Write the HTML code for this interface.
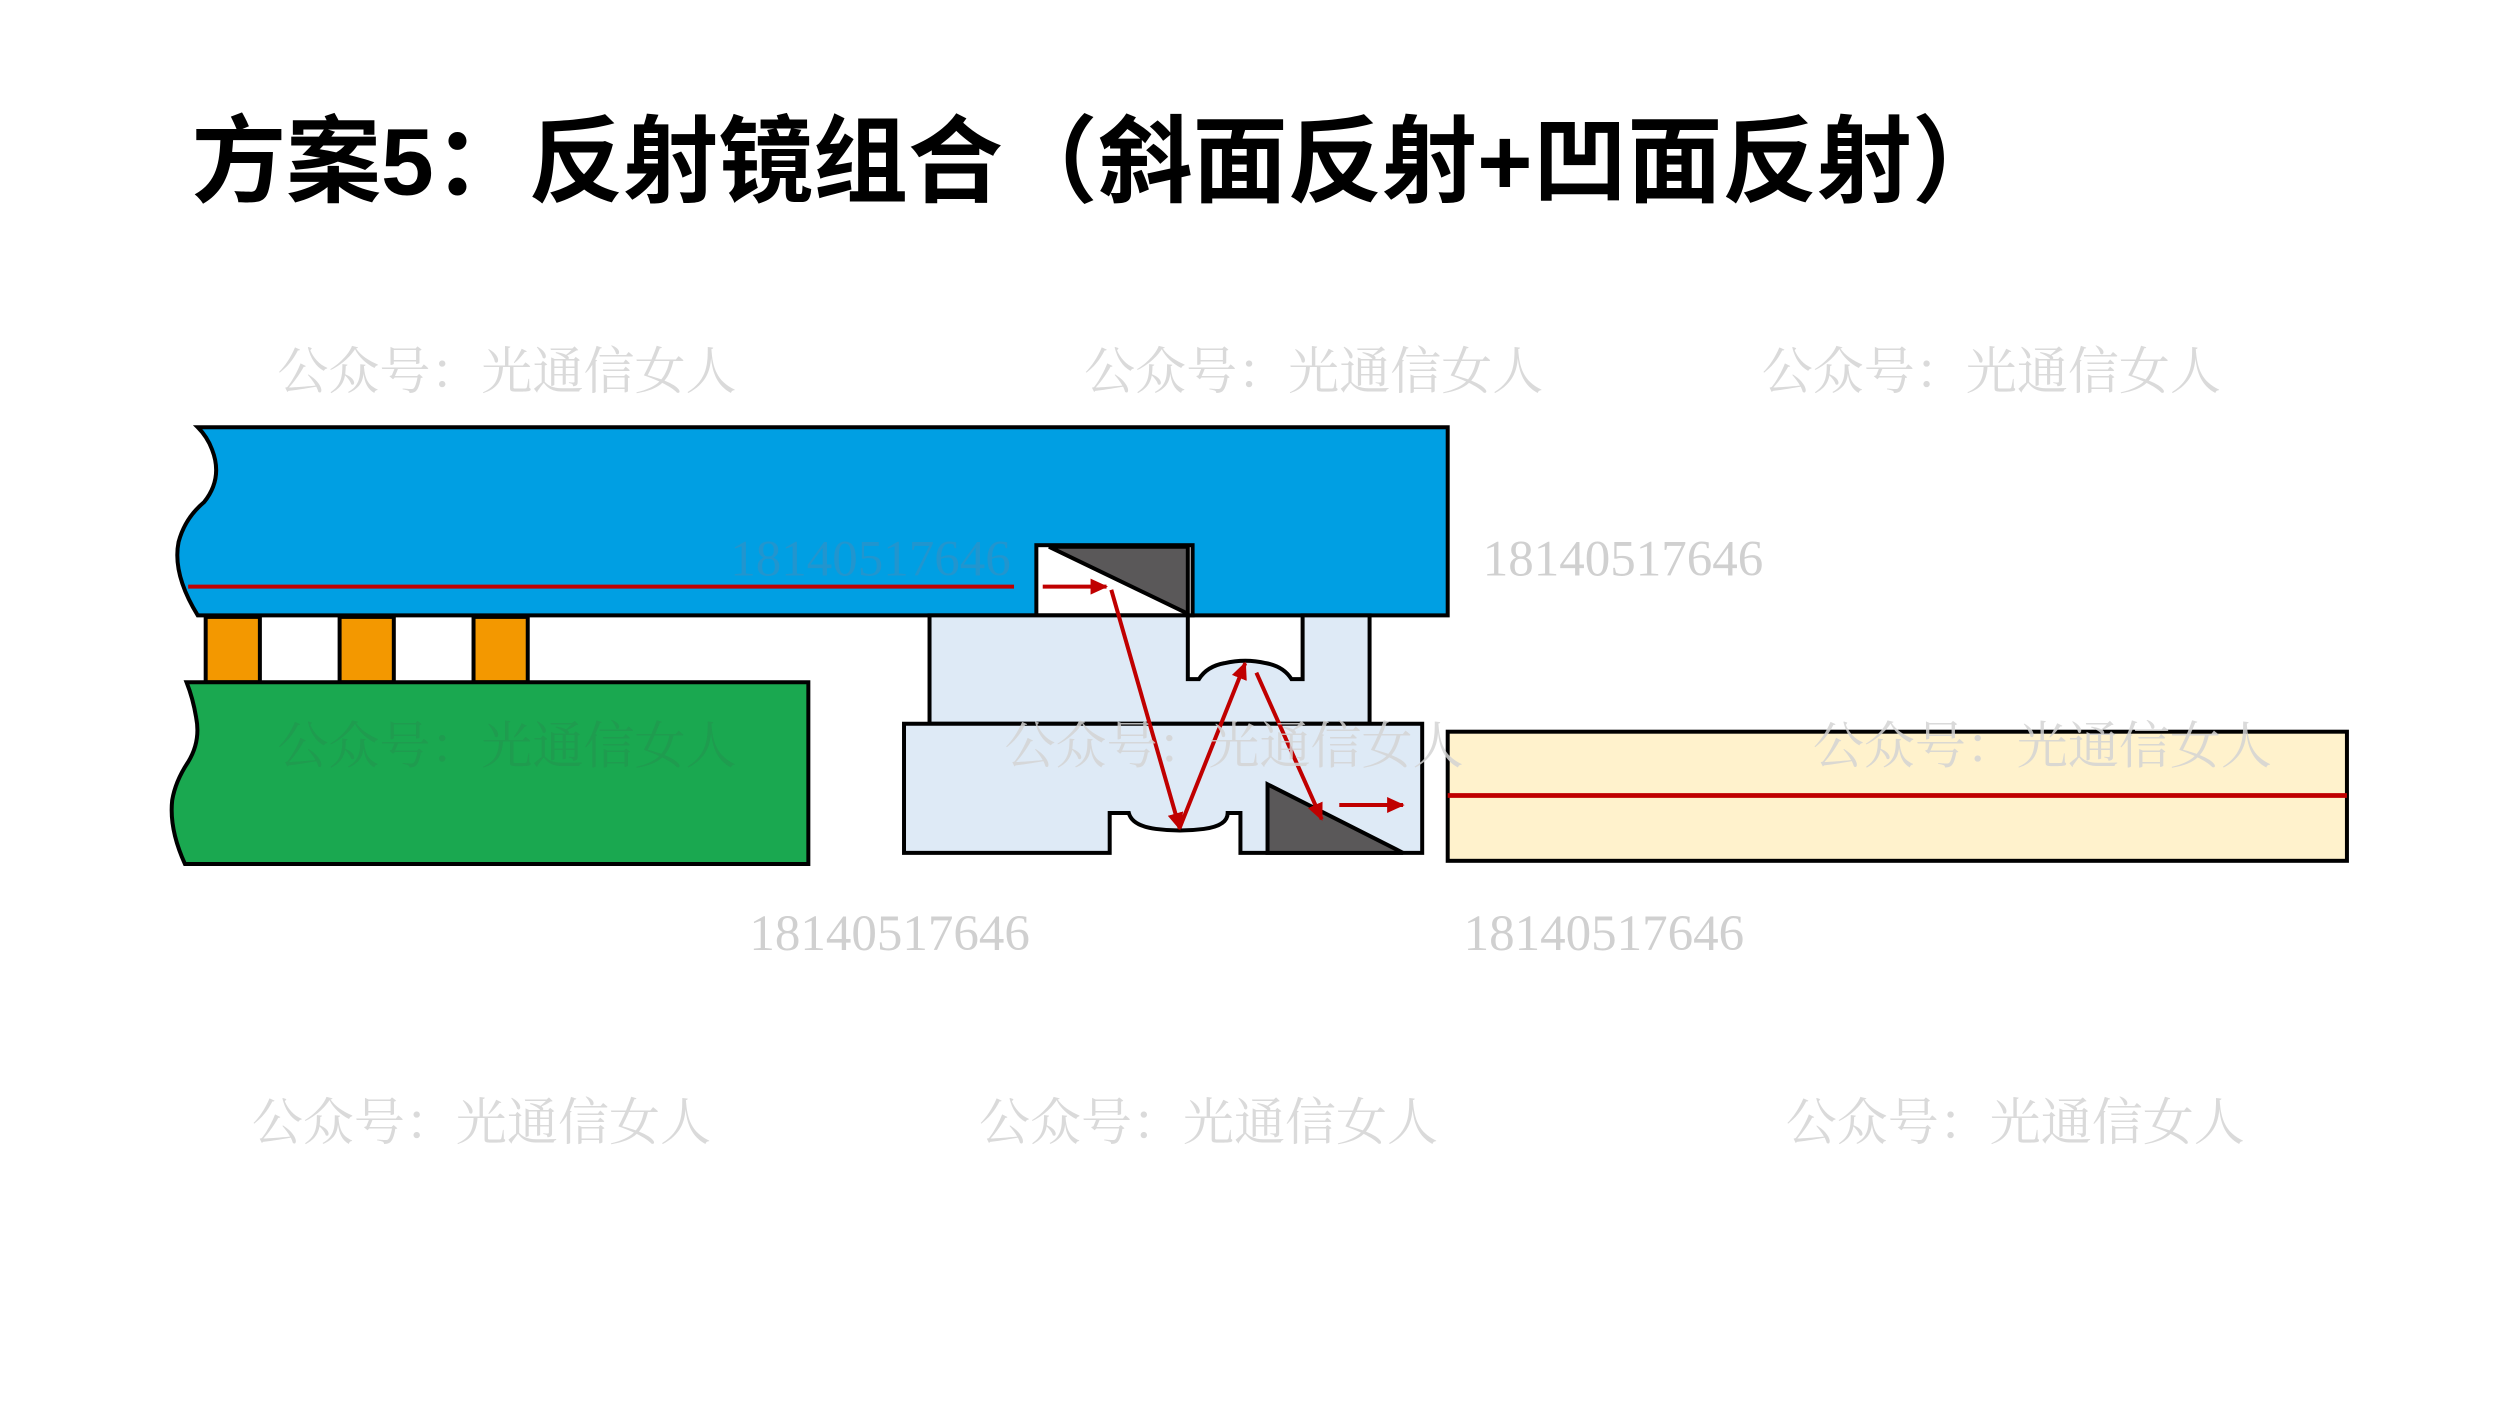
<!DOCTYPE html>
<html><head><meta charset="utf-8"><style>
html,body{margin:0;padding:0;background:#fff;}
svg{display:block;}
.wm{font-family:"Liberation Serif","Noto Serif CJK SC",serif;font-size:32px;fill:#d4d4d4;}
.num{font-family:"Liberation Serif",serif;font-size:32px;fill:#d0d0d0;}
</style></head><body>
<svg width="2500" height="1406" viewBox="0 0 1568 882" preserveAspectRatio="none" xmlns="http://www.w3.org/2000/svg">
<defs>
<marker id="ar" markerWidth="11" markerHeight="10" refX="10" refY="5" orient="auto" markerUnits="userSpaceOnUse" viewBox="0 0 11 10">
<path d="M0,0 L11,5 L0,10 z" fill="#c00000"/></marker>
</defs>
<text x="120" y="122" font-family="'Liberation Sans','Noto Sans CJK SC',sans-serif" font-weight="bold" font-size="59.5" fill="#000">方案5：反射镜组合（斜面反射+凹面反射）</text>

<!-- blue -->
<path d="M124,268 L908,268 L908,386 L124,386 Q108,360 112,340 Q116,325 128,315 Q140,300 133,282 Q130,274 124,268 Z" fill="#009fe3" stroke="#000" stroke-width="2.5"/>
<rect x="650" y="342" width="98" height="44" fill="#fff" stroke="#000" stroke-width="2.5"/>
<path d="M658,343 L745,343 L745,385 Z" fill="#5a5859" stroke="#000" stroke-width="2.5"/>
<line x1="118" y1="368" x2="636" y2="368" stroke="#c00000" stroke-width="2.5"/>

<!-- pads -->
<rect x="129" y="387" width="34" height="41" fill="#f39800" stroke="#000" stroke-width="2.5"/>
<rect x="213" y="387" width="34" height="41" fill="#f39800" stroke="#000" stroke-width="2.5"/>
<rect x="297" y="387" width="34" height="41" fill="#f39800" stroke="#000" stroke-width="2.5"/>

<!-- green -->
<path d="M117,428 L507,428 L507,542 L116,542 Q106,520 108,502 Q110,490 118,478 Q126,465 123,450 Q121,438 117,428 Z" fill="#1aa850" stroke="#000" stroke-width="2.5"/>

<!-- upper light block -->
<path d="M583,386 L745,386 L745,426 L752,426 Q757,418 768,416 Q781,413 794,416 Q805,418 810,426 L817,426 L817,386 L859,386 L859,454 L583,454 Z" fill="#deeaf6" stroke="#000" stroke-width="2.5"/>
<!-- lower light block -->
<path d="M567,454 L892,454 L892,535 L778,535 L778,510 L770,510 Q770,518 755,520 Q740,522 725,520 Q710,518 708,510 L696,510 L696,535 L567,535 Z" fill="#deeaf6" stroke="#000" stroke-width="2.5"/>
<path d="M795,492 L795,535 L880,535 Z" fill="#5a5859" stroke="#000" stroke-width="2.5"/>

<!-- yellow -->
<rect x="908" y="459" width="564" height="81" fill="#fff2cc" stroke="#000" stroke-width="2.5"/>
<line x1="908" y1="499" x2="1472" y2="499" stroke="#c00000" stroke-width="3"/>

<!-- rays -->
<g stroke="#c00000" stroke-width="2.5" fill="none">
<line x1="654" y1="368" x2="694" y2="368" marker-end="url(#ar)"/>
<line x1="697" y1="370" x2="740" y2="520" marker-end="url(#ar)"/>
<line x1="740" y1="519" x2="781" y2="416" marker-end="url(#ar)"/>
<line x1="788" y1="422" x2="829" y2="514" marker-end="url(#ar)"/>
<line x1="840" y1="505" x2="880" y2="505" marker-end="url(#ar)"/>
</g>

<!-- watermarks -->
<g class="wm" opacity="0.85">
<text x="174" y="244">公众号：光通信女人</text>
<text x="680" y="244">公众号：光通信女人</text>
<text x="1105" y="244">公众号：光通信女人</text>
<text x="174" y="479" fill="#4a4a4a" opacity="0.15">公众号：光通信女人</text>
<text x="630" y="479">公众号：光通信女人</text>
<text x="1137" y="479">公众号：光通信女人</text>
<text x="158" y="715">公众号：光通信女人</text>
<text x="614" y="715">公众号：光通信女人</text>
<text x="1120" y="715">公众号：光通信女人</text>
</g>
<g class="num">
<text x="458" y="361" fill="#3a8fc0" opacity="0.6">18140517646</text>
<text x="930" y="361">18140517646</text>
<text x="470" y="596">18140517646</text>
<text x="918" y="596">18140517646</text>
</g>
</svg>
</body></html>
